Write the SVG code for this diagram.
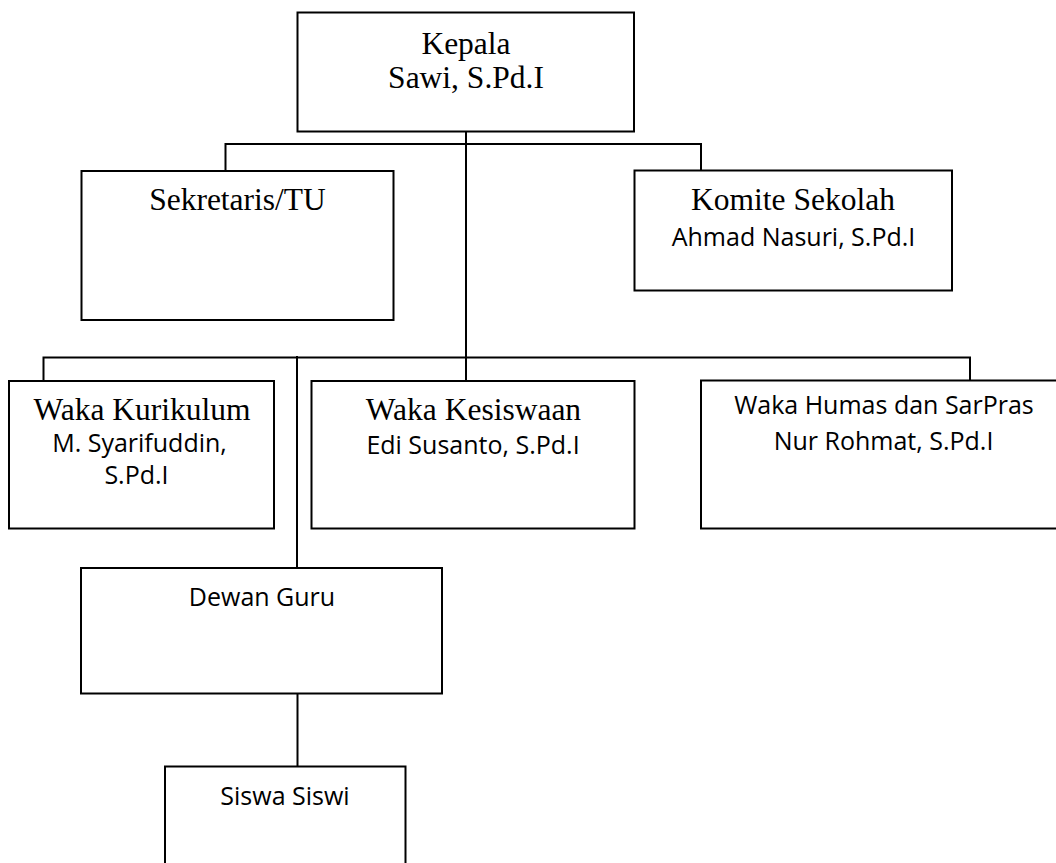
<svg xmlns="http://www.w3.org/2000/svg" width="1056" height="863" viewBox="0 0 1056 863">
<style>
  .box { fill: #ffffff; stroke: #000000; stroke-width: 2; }
  .conn { fill: none; stroke: #000000; stroke-width: 2; }
  .serif { font-family: "Liberation Serif", "Times New Roman", serif; font-size: 31.5px; fill: #000000; text-anchor: middle; }
  .sans { font-family: "Open Sans", "Noto Sans", "Liberation Sans", sans-serif; font-size: 25px; fill: #000000; text-anchor: middle; }
</style>
<rect x="0" y="0" width="1056" height="863" fill="#ffffff"/>
<g id="connectors">
  <path class="conn" d="M466 131.5 V380.5"/>
  <path class="conn" d="M225.5 171 V144 H701 V170.5"/>
  <path class="conn" d="M43.5 381 V357.5 H970 V380.5"/>
  <path class="conn" d="M297 356 V568"/>
  <path class="conn" d="M297.5 691 V766.5"/>
</g>
<g id="kepala">
  <rect class="box" x="297.5" y="12.5" width="336.5" height="119"/>
  <text class="serif" x="466" y="54">Kepala</text>
  <text class="serif" x="466" y="88">Sawi, S.Pd.I</text>
</g>
<g id="sekretaris">
  <rect class="box" x="81.5" y="171" width="312" height="149"/>
  <text class="serif" x="237.5" y="210">Sekretaris/TU</text>
</g>
<g id="komite">
  <rect class="box" x="634.5" y="170.5" width="317.5" height="120"/>
  <text class="serif" x="793" y="210">Komite Sekolah</text>
  <text class="sans" x="793.5" y="246">Ahmad Nasuri, S.Pd.I</text>
</g>
<g id="kurikulum">
  <rect class="box" x="9" y="381" width="265" height="147.5"/>
  <text class="serif" x="142" y="420">Waka Kurikulum</text>
  <text class="sans" x="139.5" y="452">M. Syarifuddin,</text>
  <text class="sans" x="136.5" y="484">S.Pd.I</text>
</g>
<g id="kesiswaan">
  <rect class="box" x="311.5" y="381" width="323" height="147.5"/>
  <text class="serif" x="473.5" y="420">Waka Kesiswaan</text>
  <text class="sans" x="473" y="454">Edi Susanto, S.Pd.I</text>
</g>
<g id="humas">
  <rect class="box" x="701" y="380.5" width="380" height="148"/>
  <text class="sans" x="884" y="413.5">Waka Humas dan SarPras</text>
  <text class="sans" x="883.5" y="450">Nur Rohmat, S.Pd.I</text>
</g>
<g id="dewan-guru">
  <rect class="box" x="81" y="568" width="361" height="125.5"/>
  <text class="sans" x="262" y="606">Dewan Guru</text>
</g>
<g id="siswa">
  <rect class="box" x="165" y="766.5" width="240.5" height="120"/>
  <text class="sans" x="285" y="805">Siswa Siswi</text>
</g>
</svg>
